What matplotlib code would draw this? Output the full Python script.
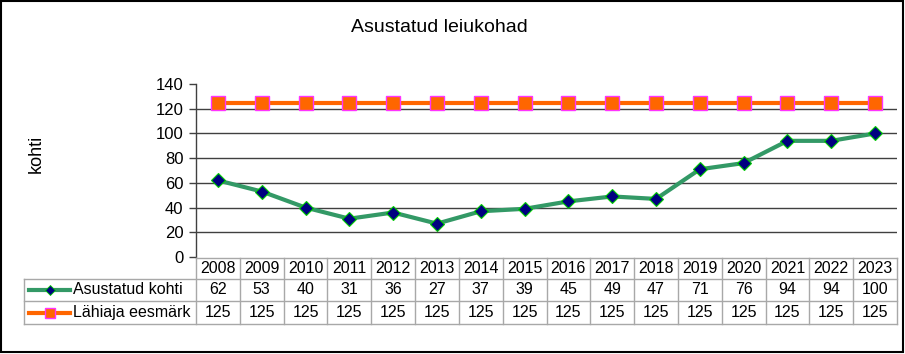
import matplotlib
matplotlib.use("Agg")
import matplotlib.pyplot as plt
from matplotlib.lines import Line2D
from matplotlib.patches import Rectangle
import matplotlib.transforms as mtransforms

years = ["2008", "2009", "2010", "2011", "2012", "2013", "2014", "2015",
         "2016", "2017", "2018", "2019", "2020", "2021", "2022", "2023"]
found = [62, 53, 40, 31, 36, 27, 37, 39, 45, 49, 47, 71, 76, 94, 94, 100]
target = [125] * 16
series_names = ["Asustatud kohti", "Lähiaja eesmärk"]
title = "Asustatud leiukohad"
ylabel = "kohti"
yticks = [0, 20, 40, 60, 80, 100, 120, 140]

plt.rcParams['font.family'] = ['Liberation Sans', 'DejaVu Sans']

W, H = 905, 354
fig = plt.figure(figsize=(W / 100, H / 100), dpi=100)

def fx(px):
    return px / W

def fy(py):
    return 1 - py / H

ax_left, ax_right, ax_top, ax_bottom = 196, 897, 84, 257
ax = fig.add_axes([fx(ax_left), fy(ax_bottom), fx(ax_right - ax_left), (ax_bottom - ax_top) / H])
x = list(range(len(years)))
ax.set_xlim(-0.5, len(years) - 0.5)
ax.set_ylim(0, 140)

grid_vals = [v for v in yticks if 0 < v < 140]
ax.hlines(grid_vals, -0.5, len(years) - 0.5, colors="#404040", linewidth=1.0, zorder=1)

green = "#339966"
orange = "#ff6600"
ax.plot(x, target, color=orange, linewidth=3.0, marker="s", markersize=10,
        markerfacecolor=orange, markeredgecolor="#ff33ff", markeredgewidth=1.0,
        zorder=3, clip_on=False)
ax.plot(x, found, color=green, linewidth=3.0, marker="D", markersize=7,
        markerfacecolor="#000080", markeredgecolor="#00cc00", markeredgewidth=0.8,
        zorder=4, clip_on=False)

ax.set_yticks(yticks)
ax.set_yticklabels([str(v) for v in yticks], fontsize=12)
ax.tick_params(axis="y", direction="out", length=5, width=1, color="#404040", pad=4)
ax.set_xticks([])
for s in ["top", "right", "bottom"]:
    ax.spines[s].set_visible(False)
ax.spines["left"].set_color("#404040")
ax.spines["left"].set_linewidth(1.0)

# title & ylabel
fig.text(fx(439), fy(27), title, ha="center", va="center", fontsize=14)
fig.text(fx(36), fy(154), ylabel, ha="center", va="center", rotation=90, fontsize=13)

# data table
trans = mtransforms.blended_transform_factory(ax.transData, fig.transFigure)
gray = "#a8a8a8"
rows_y = [258, 279, 301, 324]
fig.add_artist(Line2D([fx(ax_left), fx(ax_right)], [fy(258), fy(258)], color=gray, lw=1))
for yy in rows_y[1:]:
    fig.add_artist(Line2D([fx(24), fx(ax_right)], [fy(yy), fy(yy)], color=gray, lw=1))
for i in range(len(years) + 1):
    xv = i - 0.5
    fig.add_artist(Line2D([xv, xv], [fy(258), fy(324)], color=gray, lw=1, transform=trans))
fig.add_artist(Line2D([fx(24), fx(24)], [fy(279), fy(324)], color=gray, lw=1))

fs = 11.5
for i in range(len(years)):
    fig.text(i, fy(268.5), years[i], transform=trans, ha="center", va="center", fontsize=fs)
    fig.text(i, fy(290), str(found[i]), transform=trans, ha="center", va="center", fontsize=fs)
    fig.text(i, fy(312.5), str(target[i]), transform=trans, ha="center", va="center", fontsize=fs)

# legend keys
fig.add_artist(Line2D([fx(29), fx(70)], [fy(290), fy(290)], color=green, lw=3))
fig.add_artist(Line2D([fx(49.5)], [fy(290)], marker="D", markersize=5, color="#000080",
                      markeredgecolor="#00cc00", markeredgewidth=0.6, linestyle="none"))
fig.add_artist(Line2D([fx(29), fx(70)], [fy(312.5), fy(312.5)], color=orange, lw=3))
fig.add_artist(Line2D([fx(49.5)], [fy(312.5)], marker="s", markersize=7, color=orange,
                      markeredgecolor="#ff33ff", markeredgewidth=1.0, linestyle="none"))
fig.text(fx(73), fy(290), series_names[0], ha="left", va="center", fontsize=fs)
fig.text(fx(73), fy(312.5), series_names[1], ha="left", va="center", fontsize=fs)

# outer frame
fig.add_artist(Rectangle((fx(1), fy(352)), fx(902), (351) / H, fill=False,
                         edgecolor="black", linewidth=1.5, transform=fig.transFigure))

fig.savefig("out.png", dpi=100)
